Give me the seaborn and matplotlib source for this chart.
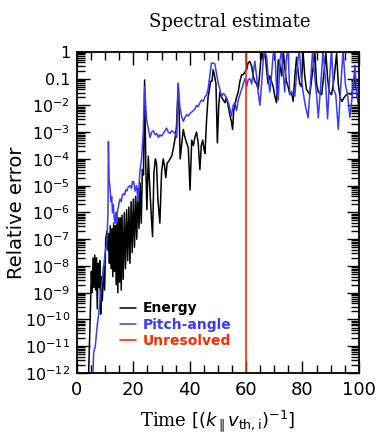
import numpy as np
import pandas as pd
import seaborn as sns
import matplotlib.pyplot as plt
from matplotlib.ticker import FixedLocator, FixedFormatter, MultipleLocator, LogLocator

# Energy curve: time and log10(relative error)
energy_t = [4.0, 4.7, 5.1, 5.4, 5.7, 6.0, 6.3, 6.6, 6.9, 7.2, 7.5, 7.8, 8.1, 8.4, 8.7, 9.0, 9.4, 9.8,
            10.2, 10.6, 10.9, 11.2, 11.5, 11.8, 12.1, 12.4, 12.7, 13.0, 13.3, 13.6, 13.9, 14.2, 14.5,
            14.8, 15.1, 15.4, 15.7, 16.0, 16.4, 16.8, 17.2, 17.6, 18.0, 18.4, 18.8, 19.2, 19.6, 20.0,
            20.4, 20.8, 21.2, 21.6, 22.0, 22.4, 22.8, 23.2, 23.6, 24.0, 24.4, 24.8, 25.3, 25.8, 26.3,
            26.8, 27.3, 27.8, 28.2, 28.7, 29.4, 30.0, 30.6, 31.1, 31.5, 32.0, 32.5, 33.0, 33.6, 34.2,
            34.7, 35.3, 35.9, 36.3, 36.6, 37.2, 37.7, 38.3, 38.9, 39.5, 40.1, 40.7, 41.3, 41.8, 42.4,
            43.0, 43.6, 44.1, 44.6, 45.0, 45.4, 46.0, 46.5, 47.0, 47.4, 47.9, 48.3, 48.8, 49.3, 49.8,
            50.3, 50.7, 51.3, 51.9, 52.5, 53.0, 53.6, 54.3, 54.8, 55.2, 55.6, 56.0, 56.6, 57.2, 57.8,
            58.4, 59.0, 59.6, 60.2, 60.7, 61.3, 62.0, 62.5, 63.1, 63.7, 64.3, 65.0, 65.5, 66.0, 66.7,
            67.2, 67.8, 68.4, 69.0, 69.6, 70.2, 70.8, 71.4, 72.0, 72.6, 73.2, 73.7, 74.3, 74.9, 75.5,
            76.1, 76.7, 77.3, 77.9, 78.5, 79.0, 79.6, 80.2, 80.8, 81.4, 82.0, 82.6, 83.5, 84.4, 85.0,
            85.6, 86.2, 86.8, 87.6, 88.3, 88.9, 89.5, 90.3, 91.2, 92.1, 92.7, 93.3, 94.0, 94.8, 95.6,
            96.4, 97.4, 98.0, 98.6, 99.2, 99.8, 100.0]
energy_log = [-12.5, -9.9, -8.2, -9.0, -7.7, -8.8, -7.6, -8.9, -7.7, -9.6, -7.9, -8.8, -7.8, -9.8, -8.4,
              -9.3, -8.0, -8.9, -7.0, -6.7, -7.4, -6.8, -7.9, -6.5, -8.1, -6.6, -8.4, -6.4, -8.2, -6.5,
              -8.7, -6.3, -9.0, -6.2, -8.6, -6.2, -8.9, -6.1, -8.5, -6.0, -8.1, -5.9, -7.8, -5.8, -7.9,
              -5.6, -7.5, -5.5, -7.3, -5.4, -7.0, -5.1, -6.6, -4.9, -6.4, -4.4, -4.6, -1.05, -4.2, -5.9,
              -3.9, -5.0, -6.0, -6.9, -4.5, -4.0, -4.15, -5.5, -6.4, -4.5, -4.0, -4.3, -4.7, -4.15, -4.1,
              -4.0, -3.9, -3.6, -3.3, -2.8, -1.2, -2.5, -4.0, -3.4, -2.9, -3.2, -3.4, -3.6, -5.16, -3.3,
              -3.5, -3.2, -3.0, -3.4, -4.4, -3.5, -3.3, -3.6, -3.8, -2.5, -1.7, -1.4, -1.1, -1.1, -0.67,
              -0.9, -1.2, -3.4, -2.0, -1.5, -1.7, -1.8, -1.9, -1.7, -2.0, -2.4, -2.6, -2.9, -2.2, -2.0,
              -1.7, -1.5, -1.1, -0.86, -0.85, -0.75, -0.67, -0.42, -0.36, -0.55, -0.9, -1.1, -1.2, -1.4,
              -0.6, 0.05, -0.3, 0.05, -0.6, -1.2, -0.9, -1.1, -1.3, -1.67, -1.9, -0.3, -0.5, -0.9, 0.02,
              -0.6, -1.1, -1.3, -1.6, -1.5, -1.85, -0.9, -0.2, -0.8, -1.2, -1.3, 0.0, -0.9, -1.4, -1.5,
              -1.6, -0.8, -0.05, -1.2, -1.5, -1.55, -1.6, -0.8, -0.05, -1.0, -1.5, -1.6, -1.0, -0.05,
              -1.2, -1.7, -1.85, -1.7, -1.6, -1.55, -1.6, -1.3, -0.9, -1.5, -1.8, -1.7]

# Pitch-angle curve
pitch_t = [5.5, 5.9, 6.5, 7.1, 7.7, 8.3, 8.9, 9.5, 10.0, 10.6, 11.0, 11.15, 11.4, 11.7, 12.0, 12.3,
           12.6, 12.9, 13.2, 13.5, 13.8, 14.1, 14.4, 14.7, 15.0, 15.3, 15.7, 16.1, 16.5, 16.9, 17.3,
           17.7, 18.2, 18.8, 19.3, 19.7, 20.1, 20.6, 21.1, 21.7, 22.3, 22.9, 23.5, 24.0, 24.4, 24.7,
           25.2, 25.9, 26.5, 27.1, 27.7, 28.3, 28.9, 29.4, 30.0, 30.6, 31.2, 31.8, 32.4, 33.0, 33.6,
           34.2, 34.8, 35.4, 35.9, 36.5, 37.1, 37.7, 38.3, 38.9, 39.5, 40.1, 40.7, 41.2, 41.8, 42.4,
           43.0, 43.6, 44.2, 44.8, 45.4, 46.0, 46.5, 47.1, 47.7, 48.3, 48.9, 49.5, 50.1, 50.7, 51.3,
           51.9, 52.4, 53.1, 53.7, 54.2, 54.8, 55.4, 56.0, 56.6, 57.2, 57.8, 58.4, 59.0, 59.6, 60.2,
           60.7, 61.3, 62.0, 62.5, 63.1, 63.7, 64.3, 64.9, 65.5, 66.0, 66.6, 67.3, 67.8, 68.4, 69.0,
           69.6, 70.2, 70.8, 71.4, 72.0, 72.6, 73.2, 73.7, 74.3, 74.9, 75.5, 76.1, 76.7, 77.3, 77.9,
           78.5, 78.9, 79.5, 80.2, 81.0, 82.0, 82.8, 83.6, 84.3, 85.0, 85.6, 86.5, 87.3, 88.1, 88.9,
           89.6, 90.3, 91.0, 91.8, 92.7, 93.5, 94.4, 95.2, 96.0, 96.8, 97.6, 98.2, 98.6, 99.2, 100.0]
pitch_log = [-12.5, -11.25, -11.0, -10.3, -9.8, -9.15, -8.6, -8.0, -7.5, -7.15, -6.0, -3.35, -4.8,
             -5.05, -5.6, -5.4, -6.0, -5.7, -6.2, -6.4, -6.0, -6.4, -5.9, -5.8, -5.6, -5.5, -5.6,
             -5.35, -5.3, -5.35, -5.15, -5.2, -5.05, -5.0, -5.1, -4.85, -4.85, -5.2, -5.0, -5.6, -4.5,
             -4.0, -3.0, -1.3, -2.0, -2.55, -2.8, -3.2, -3.0, -2.95, -3.1, -3.05, -3.2, -3.1, -3.15,
             -3.05, -2.95, -2.85, -3.0, -3.05, -2.95, -3.0, -3.05, -3.2, -1.17, -2.05, -2.4, -2.6,
             -2.45, -2.35, -2.4, -2.3, -2.25, -2.2, -2.15, -2.0, -2.05, -1.9, -1.8, -1.85, -1.68, -1.6,
             -1.4, -0.9, -0.42, -0.42, -0.45, -0.8, -1.17, -1.4, -1.68, -1.55, -1.6, -1.75, -1.9, -2.1,
             -2.4, -2.0, -1.9, -2.2, -1.8, -1.6, -1.4, -1.2, -1.0, -1.3, -1.05, -1.0, -1.2, -0.8, -0.35,
             -0.9, -1.55, -2.0, -1.2, -0.4, 0.05, -0.2, -0.9, -1.5, -0.9, -0.1, 0.05, -1.4, -1.8, -0.3,
             0.05, -0.9, -1.5, -0.2, 0.05, -1.6, -1.5, -1.6, -1.65, -0.8, -0.2, 0.05, -0.9, -1.5, -2.0,
             -2.47, -1.2, 0.05, -0.9, -1.6, -2.47, -1.2, 0.05, -1.0, -2.5, -1.0, 0.05, -1.4, -1.6, -2.9,
             -1.4, 0.05, -1.2, -1.6, -2.45, -1.7, -1.0, -0.5, -1.5, -2.2]

unresolved_t = 60
decades = [0, -1, -2, -3, -4, -5, -6, -7, -8, -9, -10, -11, -12]
decade_labels = ['1', '0.1'] + [r'$10^{%d}$' % d for d in decades[2:]]

energy = pd.DataFrame({'t': energy_t, 'err': np.power(10.0, energy_log)})
pitch = pd.DataFrame({'t': pitch_t, 'err': np.power(10.0, pitch_log)})

sns.set_style("ticks")
plt.rcParams['font.family'] = ['DejaVu Sans']
plt.rcParams['text.color'] = 'black'
plt.rcParams['axes.labelcolor'] = 'black'
plt.rcParams['xtick.color'] = 'black'
plt.rcParams['ytick.color'] = 'black'
plt.rcParams['axes.edgecolor'] = 'black'

fig = plt.figure(figsize=(3.83, 4.43), dpi=100)
ax = fig.add_axes([0.201, 0.158, 0.736, 0.725])

sns.lineplot(data=energy, x='t', y='err', color='black', lw=1.1, sort=False,
             estimator=None, label='Energy', ax=ax)
sns.lineplot(data=pitch, x='t', y='err', color='#3a3aff', lw=1.1, sort=False,
             estimator=None, label='Pitch-angle', ax=ax)
ax.axvline(unresolved_t, color='#ff2a00', lw=1.2, label='Unresolved')

ax.set_yscale('log')
ax.set_xlim(0, 100)
ax.set_ylim(1e-12, 1)

ax.yaxis.set_major_locator(FixedLocator([10.0 ** d for d in decades]))
ax.yaxis.set_major_formatter(FixedFormatter(decade_labels))
ax.yaxis.set_minor_locator(LogLocator(base=10, subs=np.arange(2, 10), numticks=50))
ax.xaxis.set_major_locator(MultipleLocator(20))
ax.xaxis.set_minor_locator(MultipleLocator(5))

ax.tick_params(which='both', direction='in', top=True, right=True, width=1.0)
ax.tick_params(which='major', length=9, labelsize=13, pad=6)
ax.tick_params(which='minor', length=6)
ax.tick_params(axis='y', which='major', labelsize=11.5, pad=5)
for s in ax.spines.values():
    s.set_linewidth(1.3)

ax.set_xlabel(r'Time $[(k_{\parallel}v_{\rm th,i})^{-1}]$', fontsize=13, family='DejaVu Serif', labelpad=6)
ax.set_ylabel('Relative error', fontsize=14)
ax.yaxis.set_label_coords(-0.18, 0.5)
fig.text(0.6, 0.95, 'Spectral estimate', ha='center', va='center', fontsize=13, family='DejaVu Serif')

ax.legend(loc='lower left', bbox_to_anchor=(0.11, 0.04), frameon=False,
          handlelength=1.1, handletextpad=0.5, labelspacing=0.15, labelcolor='linecolor',
          prop={'weight': 'bold', 'size': 10})

fig.savefig('out.png', dpi=100)
